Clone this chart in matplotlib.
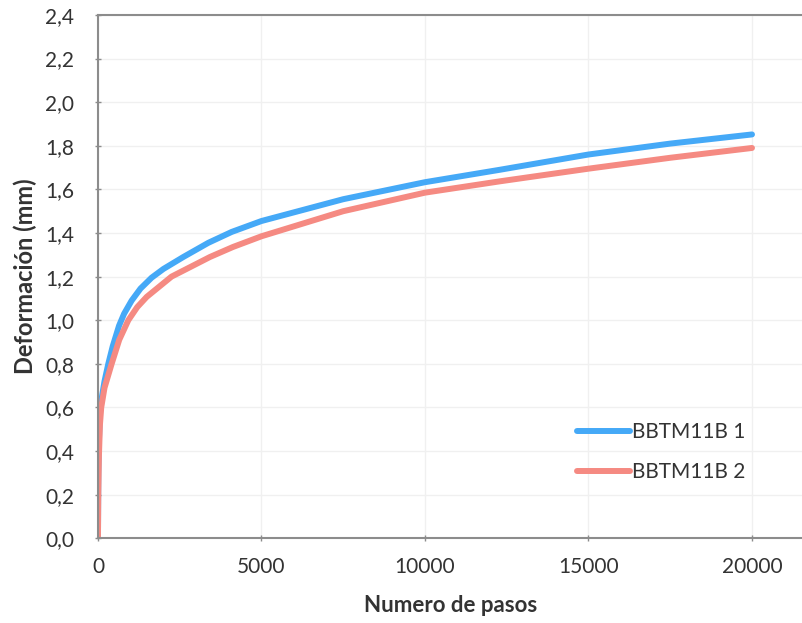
import matplotlib.pyplot as plt
from matplotlib.ticker import FuncFormatter, MultipleLocator

plt.rcParams['font.family'] = ['Lato', 'DejaVu Sans']

# ------------------ Data ------------------
pasos1 = [0, 10, 30, 60, 100, 200, 316, 450, 645, 800, 1030, 1300, 1640, 2000,
          2610, 3375, 4090, 5000, 7500, 10000, 12290, 15000, 17500, 20000]
bbtm1 = [0.00, 0.30, 0.45, 0.57, 0.63, 0.72, 0.80, 0.88, 0.975, 1.03, 1.09, 1.145,
         1.195, 1.235, 1.29, 1.355, 1.405, 1.455, 1.555, 1.633, 1.69, 1.76, 1.81, 1.852]

pasos2 = [0, 10, 30, 60, 100, 200, 418, 650, 928, 1200, 1490, 2250, 3425, 4130,
          5000, 7500, 10000, 12290, 15000, 17500, 20000]
bbtm2 = [0.00, 0.20, 0.38, 0.52, 0.60, 0.69, 0.80, 0.91, 1.00, 1.06, 1.107, 1.20,
         1.29, 1.336, 1.385, 1.50, 1.585, 1.637, 1.695, 1.745, 1.79]

labels = ['BBTM11B 1', 'BBTM11B 2']
colors = ['#45a9f7', '#f58a82']
text_col = '#333333'
axis_col = '#8c8c8c'

# ------------------ Figure ------------------
fig = plt.figure(figsize=(8.03, 6.23), dpi=100)
ax = fig.add_axes([0.122, 0.136, 0.878, 0.840])

ax.plot(pasos1, bbtm1, color=colors[0], lw=4.3, label=labels[0], solid_capstyle='round')
ax.plot(pasos2, bbtm2, color=colors[1], lw=4.3, label=labels[1], solid_capstyle='round')

ax.set_xlim(0, 21560)
ax.set_ylim(0, 2.4)
ax.xaxis.set_major_locator(MultipleLocator(5000))
ax.yaxis.set_major_locator(MultipleLocator(0.2))
ax.yaxis.set_major_formatter(FuncFormatter(lambda v, p: f"{v:.1f}".replace('.', ',')))
ax.xaxis.set_major_formatter(FuncFormatter(lambda v, p: f"{int(v)}"))

ax.grid(True, color='#f0f0f0', lw=1)
ax.set_axisbelow(True)

for s in ['left', 'bottom', 'top']:
    ax.spines[s].set_color(axis_col)
    ax.spines[s].set_linewidth(1.5)
ax.spines['right'].set_visible(False)

ax.tick_params(axis='both', colors=axis_col, labelcolor=text_col, labelsize=15,
               direction='inout', length=5, width=1)
ax.tick_params(axis='x', pad=11)
ax.tick_params(axis='y', pad=14.5)

ax.set_xlabel('Numero de pasos', fontsize=16, fontweight='bold', color=text_col, labelpad=13)
ax.set_ylabel('Deformación (mm)', fontsize=17, fontweight='bold', color=text_col, labelpad=6)

leg = ax.legend(loc='upper left', bbox_to_anchor=(0.679, 0.222), frameon=False,
                fontsize=15, handlelength=2.55, handletextpad=0.1, labelspacing=0.95,
                borderpad=0, borderaxespad=0)
for t in leg.get_texts():
    t.set_color(text_col)

fig.savefig('out.png', dpi=100)
